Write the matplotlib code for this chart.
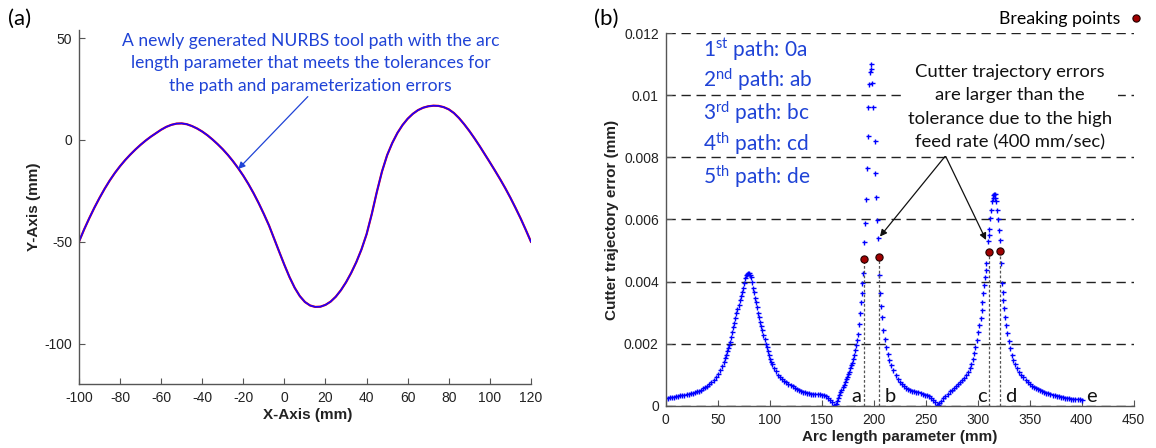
import matplotlib
matplotlib.use("Agg")
import matplotlib.pyplot as plt
from matplotlib.lines import Line2D

plt.rcParams['font.family'] = ['Liberation Sans', 'DejaVu Sans']
plt.rcParams['axes.unicode_minus'] = False
plt.rcParams['mathtext.fontset'] = 'custom'
plt.rcParams['mathtext.rm'] = 'Lato'
plt.rcParams['mathtext.it'] = 'Lato:italic'
plt.rcParams['mathtext.bf'] = 'Lato:bold'

# ---------------- panel (a): generated NURBS tool path ----------------
path_x = [-100, -97.5, -95, -92.5, -90, -87.5, -85, -82.5, -80, -77.5, -75, -72.5,
          -70, -67.5, -65, -62.5, -60, -57.5, -55, -52.5, -50, -47.5, -45, -42.5,
          -40, -37.5, -35, -32.5, -30, -27.5, -25, -22.5, -20, -17.5, -15, -12.5,
          -10, -7.5, -5, -2.5, 0, 2.5, 5, 7.5, 10, 12.5, 15, 17.5, 20, 22.5, 25,
          27.5, 30, 32.5, 35, 37.5, 40, 42.5, 45, 47.5, 50, 52.5, 55, 57.5, 60,
          62.5, 65, 67.5, 70, 72.5, 75, 77.5, 80, 82.5, 85, 87.5, 90, 92.5, 95,
          97.5, 100, 102.5, 105, 107.5, 110, 112.5, 115, 117.5, 120]
path_y = [-50, -44, -38.5, -33.3, -28.5, -24.0, -19.9, -16.2, -12.9, -9.9, -7.2,
          -4.7, -2.4, -0.3, 1.6, 3.3, 5.0, 6.4, 7.4, 8.0, 8.1, 7.7, 6.8, 5.6, 4.1,
          2.3, 0.2, -2.1, -4.6, -7.4, -10.5, -13.9, -17.6, -21.7, -26.2, -31.1,
          -36.4, -42.0, -48.5, -55.0, -61.4, -67.4, -72.6, -76.7, -79.6, -81.3,
          -82.0, -81.9, -81.0, -79.4, -77.0, -73.8, -69.9, -65.3, -60.0, -53.8,
          -46.3, -36.5, -25.5, -15.5, -7.5, -1.5, 3.4, 7.3, 10.4, 12.8, 14.6, 15.8,
          16.5, 16.8, 16.7, 16.1, 15.0, 13.2, 10.7, 7.7, 4.4, 0.8, -3.0, -7.0,
          -11.0, -15.1, -19.3, -23.7, -28.4, -33.4, -38.6, -44.2, -50]
xticks_a = [-100, -80, -60, -40, -20, 0, 20, 40, 60, 80, 100, 120]
yticks_a = [-100, -50, 0, 50]

# ---------------- panel (b): cutter trajectory error per sub-path ----------------
s1 = [0, 2, 4, 6, 8, 10, 12, 14, 16, 18, 20, 22, 24, 26, 28, 30, 32, 34, 36, 38,
      40, 42, 44, 46, 48, 50, 52, 54, 56, 57, 58, 59, 60, 61, 62, 63, 64, 65, 66,
      67, 68, 69, 70, 71, 72, 73, 74, 75, 76, 77, 78, 79, 80, 81, 82, 83, 84, 85,
      86, 87, 88, 89, 90, 91, 92, 93, 94, 95, 96, 97, 98, 99, 100, 101, 102, 104,
      106, 108, 110, 112, 114, 116, 118, 120, 122, 124, 126, 128, 130, 132, 134,
      136, 138, 140, 142, 144, 146, 148, 150, 152, 154, 156, 158, 160, 162, 163,
      164, 165, 166, 167, 168, 169, 170, 171, 172, 173, 174, 175, 176, 177, 178,
      179, 180, 181, 182, 183, 184, 185, 186, 186.8, 187.6, 188.3, 189, 189.6]
e1 = [.00025, .00026, .00027, .00028, .00029, .0003, .00031, .00033, .00035, .00036,
      .00037, .00039, .0004, .00042, .00045, .00047, .00049, .00052, .00056, .0006,
      .00065, .0007, .00077, .00084, .00092, .00102, .00115, .00128, .00142, .00153,
      .00165, .00176, .00186, .00195, .00204, .0022, .00237, .00253, .00268, .00283,
      .00298, .00312, .00326, .0034, .00353, .00367, .0038, .00395, .00412, .0042,
      .00425, .00427, .00426, .00421, .00414, .00398, .0038, .00365, .00348, .00335,
      .00317, .003, .00285, .0027, .00256, .00243, .00228, .00214, .002, .0019,
      .00177, .00163, .00152, .00142, .00135, .00122, .00111, .001, .00093, .00086,
      .0008, .00075, .0007, .00066, .00062, .00058, .00054, .00051, .00048, .00045,
      .00043, .00041, .0004, .00038, .00038, .00038, .00037, .00037, .00035, .00033,
      .0003, .00025, .00019, .00011, .00003, 0.0, .00005, .00014, .00024, .00034,
      .00043, .00052, .0006, .00068, .00076, .00085, .00093, .00102, .0011, .0012,
      .0013, .00139, .00151, .00163, .0018, .00195, .00212, .0023, .00262, .00298,
      .00335, .00362, .00395, .00427]

s2 = [191.0, 191.6, 192.3, 193.3, 194.2, 194.8, 195.8, 196.6, 197.1, 197.4, 198.1,
      199.6, 201.0, 201.5, 201.9, 202.9, 204.4]
e2 = [.00528, .0059, .00667, .00766, .0087, .00964, .01036, .01075, .01084, .011,
      .01041, .00964, .00854, .00751, .00672, .00599, .0054]

s3 = [205.4, 206.4, 207.2, 208, 209.2, 210.5, 211.8, 213.4, 215, 217, 219, 221, 223,
      225, 227, 229, 231, 233, 235, 237, 239, 241, 243, 245, 247, 249, 251, 253, 255,
      257, 259, 261, 262, 263, 265, 267, 269, 271, 273, 275, 277, 279, 281, 283, 285,
      287, 289, 291, 292.5, 294, 295.2, 296.4, 297.7, 299, 300.2, 301.5, 302.7, 303.8,
      304.6, 305.4, 306.2, 307, 307.6, 308.2]
e3 = [.00421, .00362, .0032, .00285, .00244, .00215, .0019, .00167, .00147, .0013,
      .00114, .001, .00087, .00077, .0007, .00063, .00057, .00053, .0005, .00048,
      .00046, .00045, .00043, .00041, .00039, .00036, .00033, .0003, .00025, .00019,
      .00012, .00003, .00002, .00008, .00016, .00024, .00031, .00038, .00046, .00052,
      .00058, .00064, .0007, .00077, .00083, .0009, .00098, .0011, .00122, .00135,
      .0015, .00169, .0019, .00212, .00236, .0026, .00284, .00308, .00335, .00362,
      .00389, .00416, .00438, .00459]

s4 = [309.6, 310.5, 311.2, 311.8, 312.8, 313.8, 314.4, 315, 315.8, 316.6, 317.1,
      317.6, 318.9, 319.8, 320.8, 321.4]
e4 = [.00532, .0055, .00569, .00604, .00631, .00658, .0067, .00679, .00683, .00681,
      .0067, .00658, .00631, .006, .00566, .00534]

s5 = [322.4, 323.4, 324, 324.6, 325.4, 326.3, 327.4, 328.5, 329.7, 331, 332.6, 334.2,
      336, 338, 340, 342, 344, 346, 348, 350, 352, 354, 356, 358, 360, 362, 364, 366,
      368, 370, 372, 374, 376, 378, 380, 382, 384, 386, 388, 390, 392, 394, 396, 398,
      400]
e5 = [.00459, .00394, .00367, .00341, .00314, .00287, .0026, .00233, .00208, .00185,
      .00165, .00147, .00133, .0012, .0011, .001, .00091, .00082, .00075, .00069,
      .00064, .0006, .00057, .00054, .0005, .00047, .00045, .00042, .0004, .00038,
      .00036, .00034, .00032, .0003, .00028, .00027, .00026, .00025, .00024, .00023,
      .00022, .00022, .00021, .00021, .0002]

break_s = [190.5, 204.7, 311.0, 321.5]
break_e = [0.00472, 0.00479, 0.00494, 0.00498]
break_names = ['a', 'b', 'c', 'd']
end_name = 'e'
end_s = 400

xticks_b = [0, 50, 100, 150, 200, 250, 300, 350, 400, 450]
yticks_b = [0, 0.002, 0.004, 0.006, 0.008, 0.010, 0.012]
ytick_labels_b = ['0', '0.002', '0.004', '0.006', '0.008', '0.01', '0.012']

path_labels = ['1$^{\\mathrm{st}}$ path: 0a', '2$^{\\mathrm{nd}}$ path: ab',
               '3$^{\\mathrm{rd}}$ path: bc', '4$^{\\mathrm{th}}$ path: cd',
               '5$^{\\mathrm{th}}$ path: de']
path_label_y = [0.01146, 0.01050, 0.00943, 0.00846, 0.00738]

TXT_BLUE = '#1f43d6'
DOT_RED = '#a00000'
SPINE = '#555555'
LABEL_KW = dict(fontsize=11, fontweight='bold', color='#222222')

fig = plt.figure(figsize=(11.56, 4.48), dpi=100)

# ======== (a) ========
axa = fig.add_axes([0.0683, 0.1422, 0.391, 0.791])
axa.plot(path_x, path_y, color='red', lw=1.6, solid_joinstyle='round')
axa.plot(path_x, path_y, color='#1a00ff', lw=1.2, solid_joinstyle='round')
axa.set_xlim(-100, 120)
axa.set_ylim(-120, 54)
axa.set_xticks(xticks_a)
axa.set_yticks(yticks_a)
for sp in ['top', 'right']:
    axa.spines[sp].set_visible(False)
for sp in ['left', 'bottom']:
    axa.spines[sp].set_color(SPINE)
    axa.spines[sp].set_linewidth(1.0)
axa.tick_params(direction='in', length=4, width=0.8, color=SPINE,
                labelsize=10, labelcolor='#222222', pad=5)
axa.set_xlabel('X-Axis (mm)', **LABEL_KW)
axa.set_ylabel('Y-Axis (mm)', **LABEL_KW)
axa.xaxis.set_label_coords(0.507, -0.066)
axa.yaxis.set_label_coords(-0.084, 0.5)
axa.annotate('A newly generated NURBS tool path with the arc\n'
             'length parameter that meets the tolerances for\n'
             'the path and parameterization errors',
             xy=(-22.5, -14.3), xytext=(12.7, 37.6),
             ha='center', va='center', multialignment='center',
             fontsize=12.6, family='Lato', color=TXT_BLUE, linespacing=1.5,
             arrowprops=dict(arrowstyle='-|>', color=TXT_BLUE, lw=0.9,
                             mutation_scale=10, shrinkA=0, shrinkB=0,
                             relpos=(0.5, 0.0)))
fig.text(0.007, 0.958, '(a)', fontsize=16, family='Lato', va='center', ha='left')

# ======== (b) ========
axb = fig.add_axes([0.5759, 0.0944, 0.4048, 0.8313])
axb.set_xlim(0, 450)
axb.set_ylim(0, 0.012)
axb.set_xticks(xticks_b)
axb.set_yticks(yticks_b)
axb.set_yticklabels(ytick_labels_b)
for sp in ['top', 'right']:
    axb.spines[sp].set_visible(False)
for sp in ['left', 'bottom']:
    axb.spines[sp].set_color(SPINE)
    axb.spines[sp].set_linewidth(1.0)
axb.tick_params(direction='in', length=4, width=0.8, color=SPINE,
                labelsize=10, labelcolor='#222222', pad=5)
axb.yaxis.grid(True, color='#222222', lw=1.0, linestyle=(0, (6.7, 4.1)))
axb.set_axisbelow(True)

for s, e in [(s1, e1), (s2, e2), (s3, e3), (s4, e4), (s5, e5)]:
    axb.plot(s, e, linestyle='none', marker='+', ms=3.6, mew=1.0, color='#0000ff')

for bs, be in zip(break_s, break_e):
    axb.plot([bs, bs], [0, be], color='#555555', lw=0.9, linestyle=(0, (2.2, 1.6)))
axb.plot(break_s, break_e, linestyle='none', marker='o', ms=5.2,
         mfc=DOT_RED, mec='#200000', mew=0.8, zorder=5)

letter_off = {'a': (-2, 'right'), 'b': (4, 'left'), 'c': (-2, 'right'), 'd': (4, 'left')}
for name, bs in zip(break_names, break_s):
    dx, ha = letter_off[name]
    axb.annotate(name, xy=(bs, 0.00012), xytext=(dx, 0), textcoords='offset points',
                 ha=ha, va='baseline', fontsize=14.5, family='Lato', color='#111111')
axb.annotate(end_name, xy=(end_s, 0.00012), xytext=(3, 0), textcoords='offset points',
             ha='left', va='baseline', fontsize=14.5, family='Lato', color='#111111')

for lbl, yy in zip(path_labels, path_label_y):
    axb.text(36, yy, lbl, ha='left', va='center', fontsize=15, family='Lato',
             color=TXT_BLUE)

note = ('Cutter trajectory errors\nare larger than the\n'
        'tolerance due to the high\nfeed rate (400 mm/sec)')
axb.text(331, 0.00962, note, ha='center', va='center', multialignment='center',
         fontsize=13.3, family='Lato', color='#111111', linespacing=1.55,
         bbox=dict(boxstyle='square,pad=0.3', fc='white', ec='none'), zorder=4)
for tip in [(206, 0.00545), (308, 0.00534)]:
    axb.annotate('', xy=tip, xytext=(269, 0.00805),
                 arrowprops=dict(arrowstyle='-|>', color='#111111', lw=0.9,
                                 mutation_scale=10, shrinkA=0, shrinkB=0))

axb.set_xlabel('Arc length parameter (mm)', **LABEL_KW)
axb.set_ylabel('Cutter trajectory error (mm)', **LABEL_KW)
axb.xaxis.set_label_coords(0.5, -0.064)
axb.yaxis.set_label_coords(-0.099, 0.5)

brk_handle = Line2D([], [], linestyle='none', marker='o', ms=5.2, mfc=DOT_RED,
                    mec='#200000', mew=0.8)
fig.legend(handles=[brk_handle], labels=['Breaking points'], loc='center right',
           bbox_to_anchor=(0.995, 0.957), markerfirst=False, frameon=False,
           handlelength=0.8, handletextpad=0.5, borderaxespad=0,
           prop=dict(family='Lato', size=12.8))
fig.text(0.514, 0.958, '(b)', fontsize=16, family='Lato', va='center', ha='left')

fig.savefig('out.png', dpi=100)
